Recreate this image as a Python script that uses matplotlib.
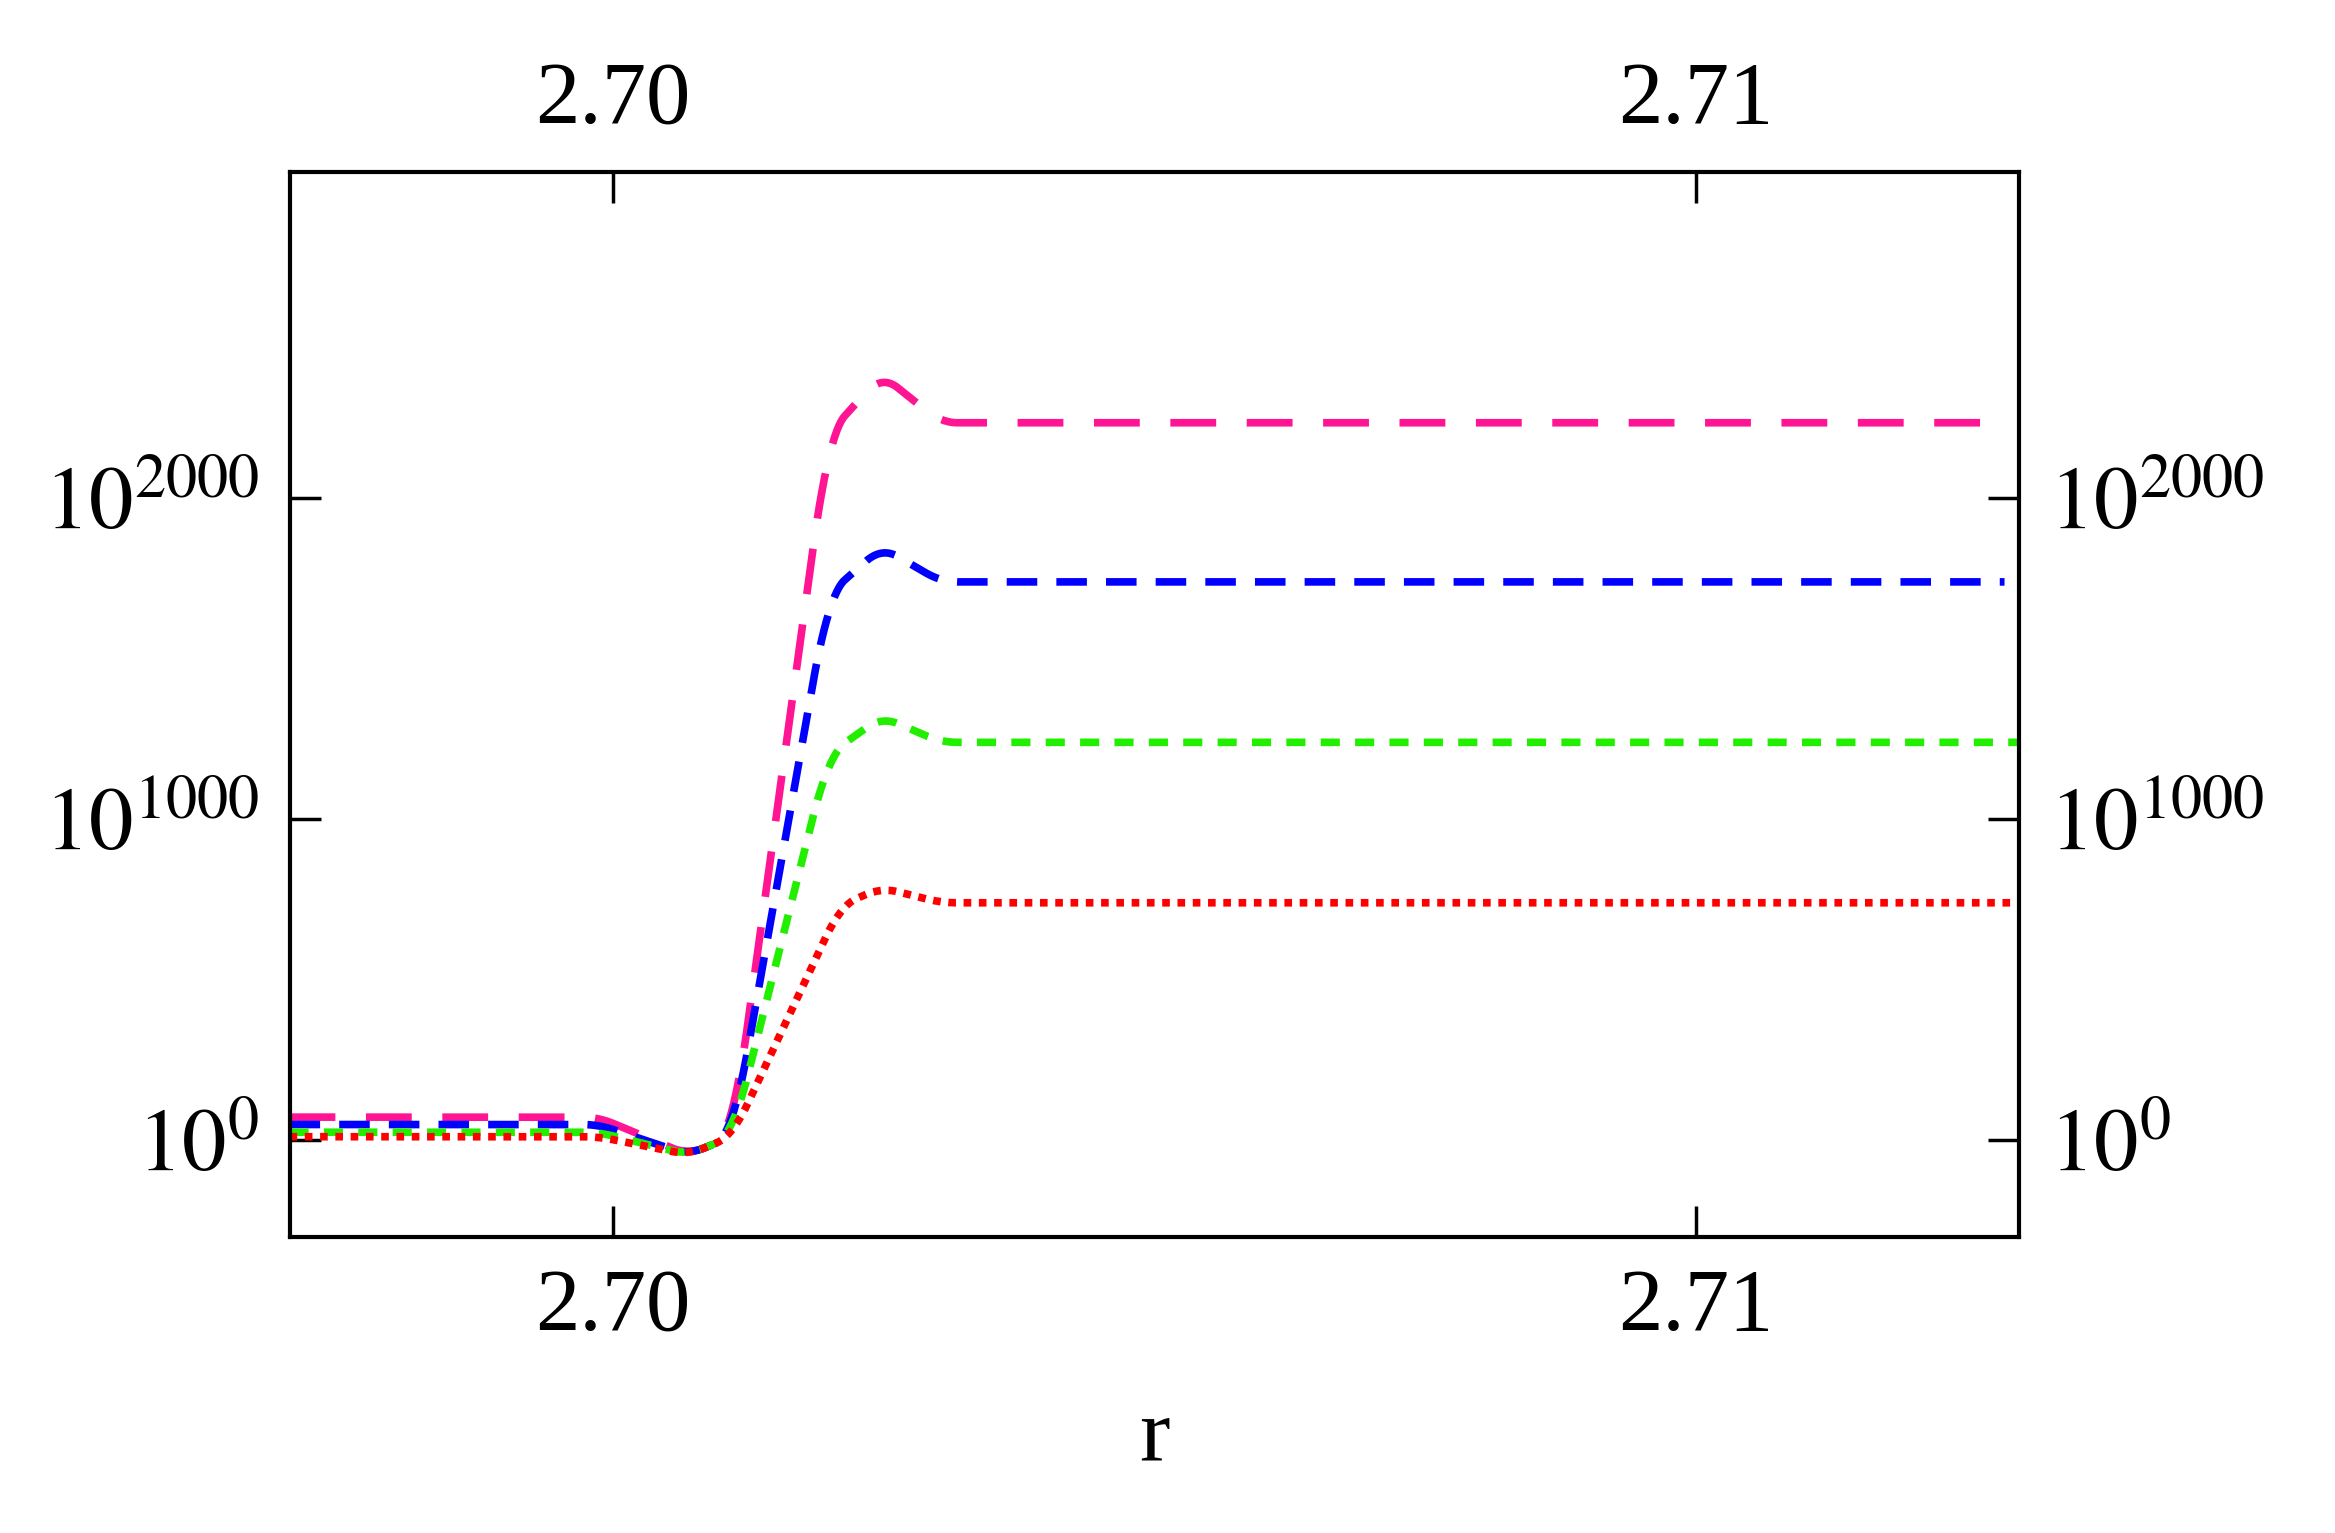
import matplotlib
matplotlib.use("Agg")
import matplotlib.pyplot as plt
import numpy as np

plt.rcParams['font.family'] = ['Liberation Serif', 'DejaVu Serif']
plt.rcParams['mathtext.fontset'] = 'stix'

# log10 of the plotted quantity at sample r positions
r_pts = [2.69701, 2.69986, 2.70069, 2.70110, 2.70199, 2.70248, 2.70303, 2.71285]
pink = [70, 70, -47, 10, 2200, 2383, 2234, 2234]
blue = [47, 47, -47, 10, 1700, 1846, 1738, 1738]
r_pts_g = [2.69701, 2.69986, 2.70069, 2.70110, 2.70199, 2.70248, 2.70303, 2.71298]
green = [23, 23, -47, 10, 1200, 1318, 1238, 1238]
red_r = [2.69701, 2.69986, 2.70069, 2.70110, 2.70210, 2.70248, 2.70303, 2.71295]
red = [9, 9, -47, 10, 730, 785, 738, 738]

def smooth(xs, ys):
    x = np.linspace(xs[0], xs[-1], 800)
    y = np.interp(x, xs, ys)
    k = np.ones(15) / 15
    yp = np.convolve(np.pad(y, 7, mode='edge'), k, mode='valid')
    return x, yp

fig = plt.figure(figsize=(23.35, 15.33), dpi=100)
ax = fig.add_axes([0.124, 0.193, 0.7405, 0.6945])
lw = 5.5
x, y = smooth(r_pts, pink); ax.plot(x, y, color='#ff1493', lw=lw, dashes=(6, 4))
x, y = smooth(r_pts, blue); ax.plot(x, y, color='#0000ff', lw=lw, dashes=(4, 2.5))
x, y = smooth(r_pts_g, green); ax.plot(x, y, color='#22ee00', lw=lw, dashes=(2.5, 2))
x, y = smooth(red_r, red); ax.plot(x, y, color='#ff0000', lw=lw, dashes=(1, 1))

ax.set_xlim(2.69701, 2.71298)
ax.set_ylim(-304, 3014)
ax.set_xticks([2.70, 2.71])
ax.set_xticklabels(['2.70', '2.71'])
ax.set_yticks([0, 1000, 2000])
ax.set_yticklabels([r'$10^{0}$', r'$10^{1000}$', r'$10^{2000}$'])
ax.tick_params(direction='in', length=22, width=2.5, labelsize=64, pad=22,
               top=True, right=True, labeltop=True, labelright=True)
for s in ax.spines.values():
    s.set_linewidth(3)
ax.set_xlabel('r', fontsize=66, labelpad=35)
fig.savefig('out.png', dpi=100)
